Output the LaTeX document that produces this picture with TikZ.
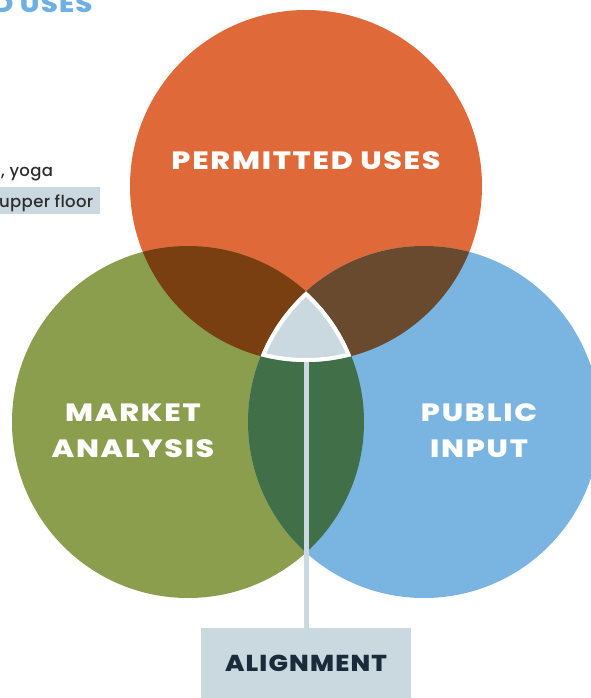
\documentclass[tikz,border=0pt]{standalone}
\usepackage{fontspec}
\setmainfont{Poppins}[BoldFont={* Bold}]
\newfontfamily\medfont{Poppins Medium}
\newfontfamily\heavyfont{Poppins ExtraBold}
\definecolor{corange}{HTML}{E0693A}
\definecolor{cgreen}{HTML}{8A9E4D}
\definecolor{cblue}{HTML}{7AB4E0}
\definecolor{cog}{HTML}{7A3F10}
\definecolor{cob}{HTML}{6A4A2F}
\definecolor{cgb}{HTML}{416F48}
\definecolor{ctri}{HTML}{C9D9DF}
\definecolor{cnavy}{HTML}{1C2B3B}
\definecolor{ctitle}{HTML}{6EB0E3}
\definecolor{ctext}{HTML}{2E2E2E}
\tikzset{
  bigtext/.style={text=white,font=\heavyfont\fontsize{25}{36}\selectfont\addfontfeatures{FakeStretch=1.2,LetterSpace=7},align=center},
  smalltext/.style={text=ctext,font=\medfont\fontsize{16.5}{18}\selectfont\addfontfeatures{LetterSpace=2},inner sep=0pt,anchor=base west}
}
\begin{document}
\begin{tikzpicture}[x=1pt,y=-1pt]
\useasboundingbox (0,0) rectangle (590,698);
\def\R{176}
\coordinate (co) at (306,186);
\coordinate (cg) at (188,422);
\coordinate (cb) at (424,422);
% base circles
\fill[corange] (co) circle (\R);
\fill[cgreen] (cg) circle (\R);
\fill[cblue] (cb) circle (\R);
% pairwise overlaps
\begin{scope}
  \clip (co) circle (\R);
  \fill[cog] (cg) circle (\R);
  \fill[cob] (cb) circle (\R);
\end{scope}
\begin{scope}
  \clip (cg) circle (\R);
  \fill[cgb] (cb) circle (\R);
\end{scope}
% connector
\node[fill=ctri,minimum width=210,minimum height=70,inner sep=0pt,anchor=north,
      text=cnavy,font=\heavyfont\fontsize{23}{26}\selectfont\addfontfeatures{FakeStretch=1.12,LetterSpace=5}] (align) at (306,628) {ALIGNMENT};
\coordinate (tribottom) at (306,356);
\draw[ctri,line width=5] (tribottom) -- (align.north);
% triple overlap
\begin{scope}
  \clip (co) circle (\R);
  \clip (cg) circle (\R);
  \clip (cb) circle (\R);
  \fill[ctri] (0,0) rectangle (590,698);
  \draw[white,line width=8] (co) circle (\R) (cg) circle (\R) (cb) circle (\R);
\end{scope}
% labels
\node[bigtext] (permitted) at (306,161) {PERMITTED USES};
\node[bigtext] (market) at (133,431) {MARKET\\ANALYSIS};
\node[bigtext] (public) at (479,431) {PUBLIC\\INPUT};
% cropped side texts
\node[text=ctitle,font=\heavyfont\fontsize{24}{28}\selectfont\addfontfeatures{FakeStretch=1.15,LetterSpace=5},inner sep=0pt,anchor=base west] (title) at (-7,13) {D USES};
\node[smalltext] (yoga) at (1,176) {, yoga};
\fill[ctri] (0,187) rectangle (100,214);
\node[smalltext] (upper) at (-1,207) {upper floor};
\end{tikzpicture}
\end{document}
